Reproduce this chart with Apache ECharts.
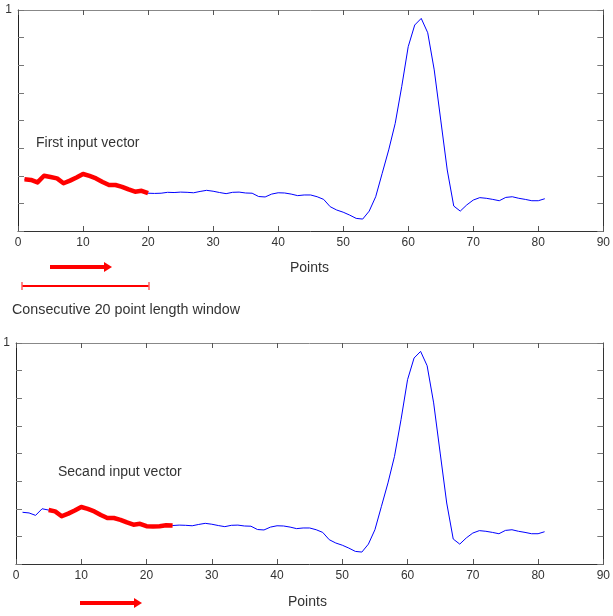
<!DOCTYPE html>
<html>
<head>
<meta charset="utf-8">
<script src="https://cdn.jsdelivr.net/npm/echarts@6/dist/echarts.min.js"></script>
<style>
html,body{margin:0;padding:0;background:#fff;}
#chart{width:613px;height:616px;}
</style>
</head>
<body>
<div id="chart"></div>
<script>
// Signal samples (sample number = index + 1)
const signal = [
  0.234, 0.231, 0.220, 0.250, 0.244, 0.238, 0.216, 0.228, 0.242, 0.258,
  0.249, 0.238, 0.222, 0.208, 0.208, 0.200, 0.188, 0.178, 0.182, 0.171,
  0.170, 0.171, 0.175, 0.174, 0.176, 0.175, 0.173, 0.179, 0.184, 0.180,
  0.174, 0.169, 0.175, 0.176, 0.172, 0.171, 0.156, 0.154, 0.167, 0.173,
  0.172, 0.167, 0.160, 0.163, 0.163, 0.155, 0.143, 0.110, 0.095, 0.085,
  0.072, 0.057, 0.054, 0.090, 0.155, 0.261, 0.367, 0.487, 0.653, 0.834,
  0.932, 0.962, 0.897, 0.729, 0.502, 0.276, 0.113, 0.090, 0.118, 0.140,
  0.151, 0.148, 0.143, 0.137, 0.152, 0.155, 0.148, 0.143, 0.137, 0.137,
  0.146
];
// Input windows (first and last sample number, inclusive)
const window1 = [1, 20];
const window2 = [5, 24];
const xTicks = [0, 10, 20, 30, 40, 50, 60, 70, 80, 90];
const xLabel = 'Points';
const texts = {
  first: 'First input vector',
  second: 'Secand input vector',
  windowNote: 'Consecutive 20 point length window'
};

const pts = signal.map((v, i) => [i + 1, v]);
const sub = (w) => pts.filter(p => p[0] >= w[0] && p[0] <= w[1]);

const FONT = "'Liberation Sans', Arial, sans-serif";
const chart = echarts.init(document.getElementById('chart'), null, {renderer: 'canvas'});

function xAxes(gi) {
  return [
    {
      gridIndex: gi, type: 'value', min: xTicks[0], max: xTicks[xTicks.length - 1], interval: 10,
      position: 'bottom',
      axisLine: {show: true, lineStyle: {color: '#333', width: 1}},
      axisTick: {show: true, inside: true, length: 5, lineStyle: {color: '#555'}},
      axisLabel: {show: true, margin: 6, fontSize: 12, color: '#333', fontFamily: FONT},
      splitLine: {show: false}
    },
    {
      gridIndex: gi, type: 'value', min: xTicks[0], max: xTicks[xTicks.length - 1], interval: 10,
      position: 'top',
      axisLine: {show: true, onZero: false, lineStyle: {color: '#888', width: 1}},
      axisTick: {show: true, inside: true, length: 5, lineStyle: {color: '#555'}},
      axisLabel: {show: false},
      splitLine: {show: false}
    }
  ];
}
function yAxes(gi) {
  return [
    {
      gridIndex: gi, type: 'value', min: 0, max: 1, interval: 0.125,
      position: 'left',
      axisLine: {show: true, onZero: false, lineStyle: {color: '#222', width: 1}},
      axisTick: {show: true, inside: true, length: 6, lineStyle: {color: '#777'}},
      axisLabel: {show: true, margin: 6, fontSize: 12, color: '#333', fontFamily: FONT,
        formatter: v => (v === 1 ? '1' : '')},
      splitLine: {show: false}
    },
    {
      gridIndex: gi, type: 'value', min: 0, max: 1, interval: 0.125,
      position: 'right',
      axisLine: {show: true, onZero: false, lineStyle: {color: '#333', width: 1}},
      axisTick: {show: true, inside: true, length: 6, lineStyle: {color: '#777'}},
      axisLabel: {show: false},
      splitLine: {show: false}
    }
  ];
}

function lineSeries(data, gi, color, width, z) {
  return {
    type: 'line', data: data,
    xAxisIndex: gi * 2, yAxisIndex: gi * 2,
    showSymbol: false, symbol: 'none', smooth: false,
    lineStyle: {color: color, width: width, cap: 'butt', join: 'round'},
    z: z, silent: true, animation: false
  };
}

const textStyle = (extra) => Object.assign({fontSize: 14, fontFamily: FONT, fill: '#333'}, extra);

const option = {
  animation: false,
  backgroundColor: '#fff',
  grid: [
    {left: 18, top: 10, width: 589, height: 221, containLabel: false},
    {left: 16, top: 343, width: 590, height: 221, containLabel: false}
  ],
  xAxis: [...xAxes(0), ...xAxes(1)],
  yAxis: [...yAxes(0), ...yAxes(1)],
  series: [
    lineSeries(pts, 0, '#0000ff', 1, 2),
    lineSeries(sub(window1), 0, '#ff0000', 4.5, 3),
    lineSeries(pts, 1, '#0000ff', 1, 2),
    lineSeries(sub(window2), 1, '#ff0000', 4.5, 3)
  ],
  graphic: [
    {type: 'text', left: 36, top: 136, style: textStyle({text: texts.first})},
    {type: 'text', left: 58, top: 465, style: textStyle({text: texts.second})},
    {type: 'text', left: 290, top: 261, style: textStyle({text: xLabel})},
    {type: 'text', left: 288, top: 595, style: textStyle({text: xLabel})},
    {type: 'text', left: 12, top: 303, style: textStyle({text: texts.windowNote, fontSize: 14.3})},
    // arrow under first panel
    {type: 'line', shape: {x1: 50, y1: 267, x2: 106, y2: 267}, style: {stroke: '#ff0000', lineWidth: 4}},
    {type: 'polygon', shape: {points: [[104, 262], [112, 267], [104, 272]]}, style: {fill: '#ff0000'}},
    // window span line
    {type: 'line', shape: {x1: 22, y1: 286, x2: 149, y2: 286}, style: {stroke: '#ff0000', lineWidth: 2}},
    {type: 'line', shape: {x1: 22, y1: 282, x2: 22, y2: 290}, style: {stroke: '#ff6060', lineWidth: 1.5}},
    {type: 'line', shape: {x1: 149, y1: 282, x2: 149, y2: 290}, style: {stroke: '#ff6060', lineWidth: 1.5}},
    // arrow under second panel
    {type: 'line', shape: {x1: 80, y1: 603, x2: 136, y2: 603}, style: {stroke: '#ff0000', lineWidth: 4}},
    {type: 'polygon', shape: {points: [[134, 598], [142, 603], [134, 608]]}, style: {fill: '#ff0000'}}
  ]
};
chart.setOption(option);
</script>
</body>
</html>
